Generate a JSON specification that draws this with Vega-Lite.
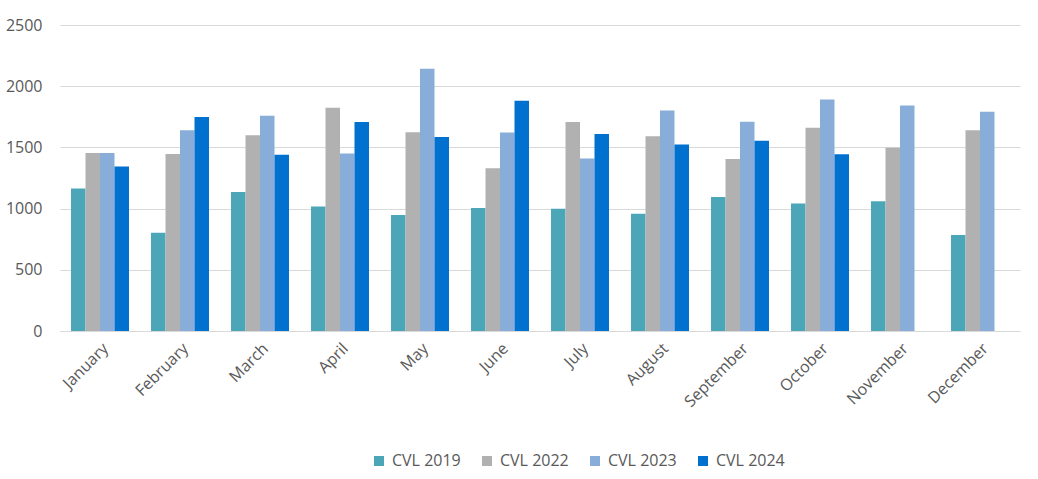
{
  "$schema": "https://vega.github.io/schema/vega-lite/v6.json",
  "width": 960,
  "height": 306,
  "autosize": {"type": "none"},
  "padding": {"left": 60, "top": 25, "right": 18, "bottom": 148},
  "background": "white",
  "config": {
    "font": "Open Sans",
    "view": {"stroke": null},
    "axis": {"labelFont": "Open Sans", "labelColor": "#595959", "labelFontSize": 16},
    "legend": {"labelFont": "Open Sans", "labelColor": "#595959", "labelFontSize": 16}
  },
  "data": {
    "values": [
      {"month": "January", "series": "CVL 2019", "value": 1165},
      {"month": "January", "series": "CVL 2022", "value": 1455},
      {"month": "January", "series": "CVL 2023", "value": 1455},
      {"month": "January", "series": "CVL 2024", "value": 1344},
      {"month": "February", "series": "CVL 2019", "value": 803},
      {"month": "February", "series": "CVL 2022", "value": 1447},
      {"month": "February", "series": "CVL 2023", "value": 1640},
      {"month": "February", "series": "CVL 2024", "value": 1748},
      {"month": "March", "series": "CVL 2019", "value": 1135},
      {"month": "March", "series": "CVL 2022", "value": 1599},
      {"month": "March", "series": "CVL 2023", "value": 1759},
      {"month": "March", "series": "CVL 2024", "value": 1439},
      {"month": "April", "series": "CVL 2019", "value": 1018},
      {"month": "April", "series": "CVL 2022", "value": 1824},
      {"month": "April", "series": "CVL 2023", "value": 1450},
      {"month": "April", "series": "CVL 2024", "value": 1707},
      {"month": "May", "series": "CVL 2019", "value": 947},
      {"month": "May", "series": "CVL 2022", "value": 1623},
      {"month": "May", "series": "CVL 2023", "value": 2142},
      {"month": "May", "series": "CVL 2024", "value": 1585},
      {"month": "June", "series": "CVL 2019", "value": 1004},
      {"month": "June", "series": "CVL 2022", "value": 1330},
      {"month": "June", "series": "CVL 2023", "value": 1621},
      {"month": "June", "series": "CVL 2024", "value": 1881},
      {"month": "July", "series": "CVL 2019", "value": 999},
      {"month": "July", "series": "CVL 2022", "value": 1707},
      {"month": "July", "series": "CVL 2023", "value": 1409},
      {"month": "July", "series": "CVL 2024", "value": 1610},
      {"month": "August", "series": "CVL 2019", "value": 958},
      {"month": "August", "series": "CVL 2022", "value": 1591},
      {"month": "August", "series": "CVL 2023", "value": 1802},
      {"month": "August", "series": "CVL 2024", "value": 1523},
      {"month": "September", "series": "CVL 2019", "value": 1094},
      {"month": "September", "series": "CVL 2022", "value": 1406},
      {"month": "September", "series": "CVL 2023", "value": 1710},
      {"month": "September", "series": "CVL 2024", "value": 1555},
      {"month": "October", "series": "CVL 2019", "value": 1042},
      {"month": "October", "series": "CVL 2022", "value": 1661},
      {"month": "October", "series": "CVL 2023", "value": 1892},
      {"month": "October", "series": "CVL 2024", "value": 1444},
      {"month": "November", "series": "CVL 2019", "value": 1061},
      {"month": "November", "series": "CVL 2022", "value": 1498},
      {"month": "November", "series": "CVL 2023", "value": 1843},
      {"month": "December", "series": "CVL 2019", "value": 784},
      {"month": "December", "series": "CVL 2022", "value": 1640},
      {"month": "December", "series": "CVL 2023", "value": 1792}
    ]
  },
  "mark": {"type": "bar"},
  "encoding": {
    "x": {
      "field": "month",
      "type": "nominal",
      "sort": null,
      "title": null,
      "scale": {"paddingInner": 0.275, "paddingOuter": 0.1375},
      "axis": {
        "labelAngle": -45,
        "labelPadding": 9,
        "ticks": false,
        "domainColor": "#D9D9D9",
        "domainWidth": 1
      }
    },
    "xOffset": {
      "field": "series",
      "type": "nominal",
      "sort": ["CVL 2019", "CVL 2022", "CVL 2023", "CVL 2024"],
      "scale": {"paddingInner": 0, "paddingOuter": 0}
    },
    "y": {
      "field": "value",
      "type": "quantitative",
      "title": null,
      "scale": {"domain": [0, 2500]},
      "axis": {
        "values": [0, 500, 1000, 1500, 2000, 2500],
        "format": "d",
        "ticks": false,
        "domain": false,
        "labelPadding": 18,
        "gridColor": "#D9D9D9",
        "gridWidth": 1.2
      }
    },
    "color": {
      "field": "series",
      "type": "nominal",
      "title": null,
      "scale": {
        "domain": ["CVL 2019", "CVL 2022", "CVL 2023", "CVL 2024"],
        "range": ["#4BA7B7", "#B1B1B1", "#87ADD8", "#0071CE"]
      },
      "legend": {
        "orient": "none",
        "direction": "horizontal",
        "legendX": 311,
        "legendY": 428,
        "symbolType": "square",
        "symbolSize": 100,
        "symbolStrokeWidth": 0,
        "labelOffset": 5,
        "columnPadding": 18
      }
    }
  }
}
